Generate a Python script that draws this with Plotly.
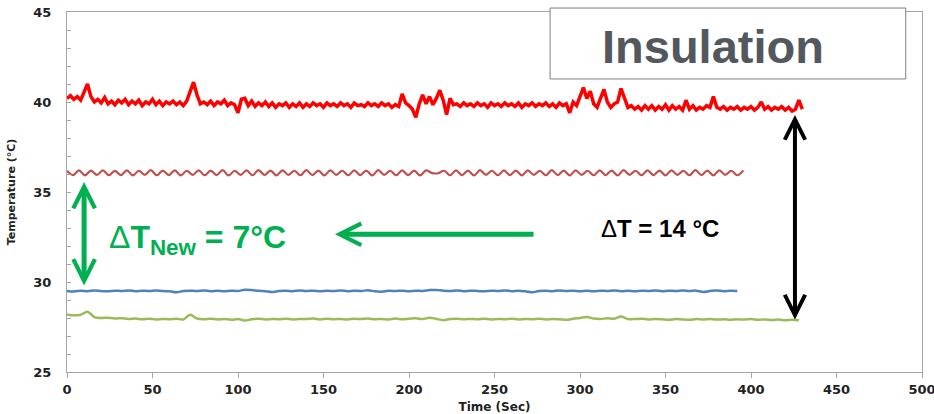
import numpy as np
import plotly.graph_objects as go

# ---------------- data ----------------
red_time = np.arange(0, 432, 2)  # 0..430 s
red_temp = [
    40.2, 40.35, 40.15, 40.3, 40.1, 40.5, 41.0, 40.3, 40.0, 40.15,
    39.95, 40.25, 39.9, 40.05, 39.85, 40.1, 39.95, 40.15, 39.85, 40.05,
    39.9, 40.1, 39.8, 40.0, 39.9, 40.15, 39.85, 40.05, 39.8, 40.0,
    39.9, 40.05, 39.85, 40.0, 39.8, 40.05, 40.6, 41.1, 40.4, 39.9,
    40.0, 39.85, 40.05, 39.8, 40.0, 39.9, 40.1, 39.8, 39.95, 39.85,
    39.4, 40.15, 40.2, 39.8, 40.05, 39.75, 39.95, 39.8, 40.0, 39.75,
    39.95, 39.7, 39.9, 39.8, 39.95, 39.7, 39.9, 39.75, 39.95, 39.7,
    39.9, 39.75, 39.95, 39.8, 39.9, 39.7, 39.95, 39.8, 39.9, 39.75,
    39.95, 39.8, 39.9, 39.7, 39.95, 39.8, 39.85, 39.75, 39.95, 39.8,
    39.9, 39.75, 39.95, 39.8, 39.9, 39.7, 39.85, 39.75, 40.45, 39.95,
    39.8, 39.6, 39.15, 39.9, 40.4, 39.9, 40.3, 39.85, 40.2, 40.65,
    40.1, 39.3, 40.2, 39.85, 39.9, 39.75, 39.95, 39.8, 39.9, 39.75,
    39.95, 39.8, 39.9, 39.7, 39.95, 39.8, 39.9, 39.75, 39.95, 39.8,
    39.9, 39.75, 39.95, 39.7, 39.9, 39.8, 39.95, 39.75, 39.9, 39.8,
    39.95, 39.75, 39.9, 39.7, 39.95, 39.8, 39.9, 39.4, 40.0, 39.8,
    40.3, 40.8, 40.2, 40.6, 39.9, 39.7, 40.2, 40.7, 40.0, 39.7,
    39.9, 40.0, 40.75, 40.2, 39.7, 39.8, 39.6, 39.75, 39.55, 39.8,
    39.6, 39.8, 39.55, 39.75, 39.6, 39.85, 39.55, 39.8, 39.6, 39.75,
    39.55, 40.1, 39.6, 39.8, 39.55, 39.7, 39.6, 39.8, 39.7, 40.3,
    39.7, 39.6, 39.75, 39.55, 39.7, 39.6, 39.75, 39.55, 39.7, 39.6,
    39.75, 39.55, 39.7, 40.0, 39.6, 39.75, 39.55, 39.7, 39.6, 39.75,
    39.55, 39.7, 39.5, 39.6, 40.1, 39.6,
]

darkred_time = np.arange(0, 396, 3.5)  # 0..395.5 s
darkred_temp = [
    36.18, 35.94, 36.2, 35.92, 36.19, 35.95, 36.2, 35.93, 36.17, 35.94,
    36.2, 35.92, 36.18, 35.95, 36.21, 35.93, 36.19, 35.94, 36.2, 35.92,
    36.18, 35.95, 36.2, 35.93, 36.19, 35.94, 36.21, 35.92, 36.18, 35.95,
    36.2, 35.93, 36.22, 35.94, 36.19, 35.92, 36.2, 35.95, 36.18, 35.93,
    36.21, 35.94, 36.19, 35.92, 36.2, 35.95, 36.18, 35.93, 36.2, 35.94,
    36.19, 35.92, 36.21, 35.95, 36.18, 35.93, 36.2, 35.94, 36.19, 35.92,
    36.2, 36.05, 36.04, 36.18, 35.93, 36.2, 35.94, 36.19, 35.92, 36.21,
    35.95, 36.18, 35.93, 36.2, 35.94, 36.19, 35.92, 36.2, 35.95, 36.18,
    35.93, 36.21, 35.94, 36.19, 35.92, 36.2, 35.95, 36.18, 35.93, 36.2,
    35.94, 36.19, 35.92, 36.21, 35.95, 36.18, 35.93, 36.2, 35.94, 36.19,
    35.92, 36.2, 35.95, 36.18, 35.93, 36.21, 35.94, 36.19, 35.92, 36.2,
    35.95, 36.18, 35.93, 36.2,
]

blue_time = np.arange(0, 396, 4)  # 0..392 s
blue_temp = [
    29.5, 29.47, 29.52, 29.49, 29.53, 29.5, 29.48, 29.52, 29.5, 29.53,
    29.49, 29.52, 29.5, 29.53, 29.5, 29.48, 29.43, 29.5, 29.52, 29.5,
    29.53, 29.49, 29.51, 29.48, 29.52, 29.5, 29.57, 29.55, 29.51, 29.49,
    29.44, 29.5, 29.52, 29.49, 29.53, 29.5, 29.52, 29.48, 29.51, 29.5,
    29.53, 29.49, 29.52, 29.5, 29.54, 29.48, 29.46, 29.51, 29.5, 29.52,
    29.49, 29.52, 29.5, 29.55, 29.56, 29.52, 29.5, 29.53, 29.49, 29.52,
    29.5, 29.48, 29.52, 29.5, 29.53, 29.49, 29.51, 29.48, 29.43, 29.5,
    29.52, 29.49, 29.53, 29.5, 29.52, 29.49, 29.51, 29.48, 29.52, 29.5,
    29.53, 29.49, 29.51, 29.48, 29.52, 29.5, 29.53, 29.49, 29.52, 29.5,
    29.53, 29.5, 29.52, 29.45, 29.5, 29.53, 29.49, 29.52, 29.5,
]

green_time = np.arange(0, 432, 4)  # 0..428 s
green_temp = [
    28.2, 28.15, 28.18, 28.35, 28.05, 28.0, 28.02, 27.97, 27.99, 27.95,
    27.97, 27.93, 27.96, 27.92, 27.95, 27.93, 27.96, 27.92, 28.18, 27.97,
    27.93, 27.96, 27.92, 27.95, 27.9, 27.94, 27.86, 27.93, 27.96, 27.92,
    27.95, 27.93, 27.96, 27.92, 27.95, 27.94, 27.97, 27.92, 27.96, 27.93,
    27.95, 27.92, 27.96, 27.94, 27.97, 27.93, 27.95, 27.92, 27.97, 27.93,
    27.96, 27.98, 27.94, 28.02, 27.95, 27.88, 27.94, 27.96, 27.93, 27.95,
    27.93, 27.96, 27.92, 27.95, 27.93, 27.96, 27.92, 27.95, 27.93, 27.96,
    27.92, 27.95, 27.93, 27.9, 27.96, 28.0, 28.05, 27.97, 27.95, 27.98,
    27.96, 28.08, 27.95, 27.94, 27.96, 27.92, 27.95, 27.93, 27.9, 27.94,
    27.92, 27.9, 27.94, 27.92, 27.95, 27.91, 27.93, 27.9, 27.93, 27.91,
    27.94, 27.9, 27.92, 27.89, 27.91, 27.88, 27.9, 27.87,
]

x_ticks = [0, 50, 100, 150, 200, 250, 300, 350, 400, 450, 500]
y_ticks = [25, 30, 35, 40, 45]

GREEN = "#00B050"

# ---------------- figure ----------------
fig = go.Figure()
fig.add_trace(go.Scatter(x=red_time, y=red_temp, mode="lines",
                         line=dict(color="#FF0000", width=3.5)))
fig.add_trace(go.Scatter(x=darkred_time, y=darkred_temp, mode="lines",
                         line=dict(color="#C0504D", width=2.2, shape="spline")))
fig.add_trace(go.Scatter(x=blue_time, y=blue_temp, mode="lines",
                         line=dict(color="#4F81BD", width=2.5, shape="spline")))
fig.add_trace(go.Scatter(x=green_time, y=green_temp, mode="lines",
                         line=dict(color="#9BBB59", width=2.5, shape="spline")))

tickfont = dict(family="DejaVu Sans", size=13, color="#222222", weight="bold")

fig.update_layout(
    width=934, height=414,
    margin=dict(l=67, r=12, t=12, b=42, autoexpand=False),
    plot_bgcolor="white", paper_bgcolor="white",
    showlegend=False,
    xaxis=dict(range=[0, 500], tickvals=x_ticks, ticks="outside", ticklen=5,
               tickcolor="#A6A6A6", showgrid=False, zeroline=False,
               showline=True, linecolor="#A6A6A6", mirror=True,
               tickfont=tickfont, automargin=False, ticklabeloverflow="allow",
               title=dict(text="Time (Sec)",
                          font=dict(family="DejaVu Sans", size=12, color="#222222", weight="bold"))),
    yaxis=dict(range=[25, 45], tickvals=y_ticks, ticks="inside", ticklen=4,
               tickcolor="#A6A6A6", showgrid=False, zeroline=False,
               showline=True, linecolor="#A6A6A6", mirror=True,
               minor=dict(dtick=1, ticks="inside", ticklen=4, tickcolor="#A6A6A6"),
               tickfont=tickfont, ticklabelstandoff=12, automargin=False,
               ticklabeloverflow="allow",
               title=dict(text="Temperature (°C)",
                          font=dict(family="DejaVu Sans", size=11, color="#222222", weight="bold"))),
)

# Insulation box
fig.add_shape(type="rect", xref="paper", yref="paper",
              x0=0.565, x1=0.981, y0=0.814, y1=1.011,
              line=dict(color="#7F7F7F", width=1), fillcolor="white", layer="above")
fig.add_annotation(xref="paper", yref="paper", x=0.756, y=0.905,
                   xanchor="center", yanchor="middle",
                   text="<b>Insulation</b>", showarrow=False,
                   font=dict(family="Liberation Sans", size=47, color="#53575E"))

# green double arrow
fig.add_annotation(x=10, y=35.55, ax=10, ay=29.72, xref="x", yref="y",
                   axref="x", ayref="y", text="", showarrow=True,
                   arrowside="end+start", arrowhead=5, startarrowhead=5,
                   arrowsize=0.85, startarrowsize=0.85, arrowwidth=5, arrowcolor=GREEN)
# green left arrow
fig.add_annotation(x=156.7, y=32.65, ax=273.7, ay=32.65, xref="x", yref="y",
                   axref="x", ayref="y", text="", showarrow=True,
                   arrowhead=5, arrowsize=0.85, arrowwidth=5, arrowcolor=GREEN)
# black double arrow
fig.add_annotation(x=425.7, y=39.28, ax=425.7, ay=27.83, xref="x", yref="y",
                   axref="x", ayref="y", text="", showarrow=True,
                   arrowside="end+start", arrowhead=5, startarrowhead=5,
                   arrowsize=1, startarrowsize=1, arrowwidth=4, arrowcolor="black")

fig.add_annotation(x=23.4, y=32.35, xref="x", yref="y", xanchor="left", yanchor="middle",
                   text="Δ<b>T<sub>New</sub> = 7°C</b>", showarrow=False,
                   font=dict(family="Liberation Sans", size=32, color=GREEN))
fig.add_annotation(x=346.8, y=33.0, xref="x", yref="y", xanchor="center", yanchor="middle",
                   text="Δ<b>T = 14 °C</b>", showarrow=False,
                   font=dict(family="Liberation Sans", size=24, color="black"))

fig.write_html("out.html", config={"displayModeBar": False},
               post_script="document.body.style.margin='0';document.body.style.overflow='hidden';")
